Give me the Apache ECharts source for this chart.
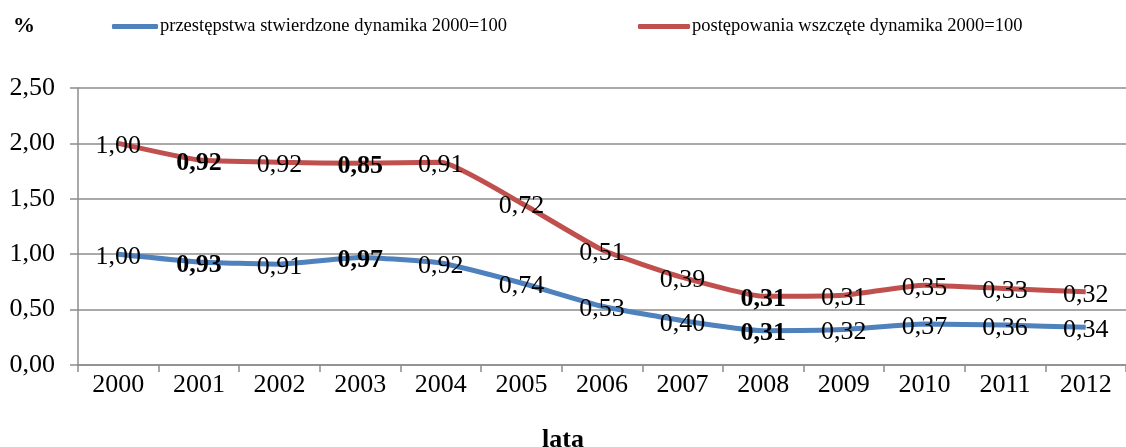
<!DOCTYPE html>
<html>
<head>
<meta charset="utf-8">
<script src="https://cdn.jsdelivr.net/npm/echarts@6/dist/echarts.min.js"></script>
<style>
  html, body { margin: 0; padding: 0; background: #fff; }
  #chart { width: 1126px; height: 447px; }
</style>
</head>
<body>
<div id="chart"></div>
<script>
// dane
const years = ["2000", "2001", "2002", "2003", "2004", "2005", "2006", "2007", "2008", "2009", "2010", "2011", "2012"];
const przestepstwa = [1.00, 0.93, 0.91, 0.97, 0.92, 0.74, 0.53, 0.40, 0.31, 0.32, 0.37, 0.36, 0.34];
const postepowania = [1.00, 0.92, 0.92, 0.85, 0.91, 0.72, 0.51, 0.39, 0.31, 0.31, 0.35, 0.33, 0.32];
const boldYears = ["2001", "2003", "2008"];
const yTicks = [0, 0.5, 1, 1.5, 2, 2.5];

const name1 = "przestępstwa stwierdzone dynamika 2000=100";
const name2 = "postępowania wszczęte dynamika 2000=100";
const font = "Liberation Serif, Times New Roman, serif";
const gray = "#8c8c8c";

function fmt(v) {
  return v.toFixed(2).replace(".", ",");
}

function toData(arr) {
  return arr.map(function (v, i) {
    const bold = boldYears.indexOf(years[i]) >= 0;
    return { value: v, label: { fontWeight: bold ? "bold" : "normal" } };
  });
}

function lineSeries(name, arr, color) {
  return {
    name: name,
    type: "line",
    stack: "suma",
    data: toData(arr),
    smooth: 0.15,
    symbol: "circle",
    symbolSize: 1,
    showSymbol: true,
    lineStyle: { width: 5, color: color },
    itemStyle: { color: color },
    label: {
      show: true, position: "inside",
      fontFamily: font, fontSize: 26, color: "#000",
      formatter: function (p) { return fmt(p.value); }
    },
    labelLayout: { hideOverlap: false, dy: 3 }
  };
}

const chart = echarts.init(document.getElementById("chart"));

const option = {
  animation: false,
  backgroundColor: "#fff",
  textStyle: { fontFamily: font, color: "#000" },
  title: [
    { text: "%", left: 13, top: 15, padding: 0, textStyle: { fontFamily: font, fontSize: 22, fontWeight: "bold", color: "#000" } },
    { text: "lata", left: "center", top: 427, padding: 0, textStyle: { fontFamily: font, fontSize: 26, fontWeight: "bold", color: "#000" } }
  ],
  legend: [
    {
      data: [name1], left: 107, top: 12, itemWidth: 46, itemHeight: 5, itemGap: 2,
      icon: "roundRect",
      textStyle: { fontFamily: font, fontSize: 18.5, color: "#000", padding: [0, 0, 0, -3] }
    },
    {
      data: [name2], left: 633, top: 12, itemWidth: 52, itemHeight: 5, itemGap: 2,
      icon: "roundRect",
      textStyle: { fontFamily: font, fontSize: 18.5, color: "#000", padding: [0, 0, 0, -3] }
    }
  ],
  grid: { left: 78, top: 88, width: 1058, height: 277, containLabel: false },
  xAxis: {
    type: "category",
    data: years,
    boundaryGap: true,
    axisLine: { lineStyle: { color: gray, width: 1.5 } },
    axisTick: { show: true, length: 7, lineStyle: { color: gray, width: 1.5 } },
    axisLabel: { fontFamily: font, fontSize: 26, color: "#000", margin: 7 }
  },
  yAxis: {
    type: "value",
    min: yTicks[0],
    max: yTicks[yTicks.length - 1],
    interval: 0.5,
    axisLine: { show: true, lineStyle: { color: gray, width: 1.5 } },
    axisTick: { show: true, length: 8, lineStyle: { color: gray, width: 1.5 } },
    splitLine: { lineStyle: { color: gray, width: 1.5 } },
    axisLabel: { fontFamily: font, fontSize: 26, color: "#000", margin: 23, formatter: fmt }
  },
  series: [
    lineSeries(name1, przestepstwa, "#4f81bd"),
    lineSeries(name2, postepowania, "#c0504d")
  ]
};

chart.setOption(option);
</script>
</body>
</html>
